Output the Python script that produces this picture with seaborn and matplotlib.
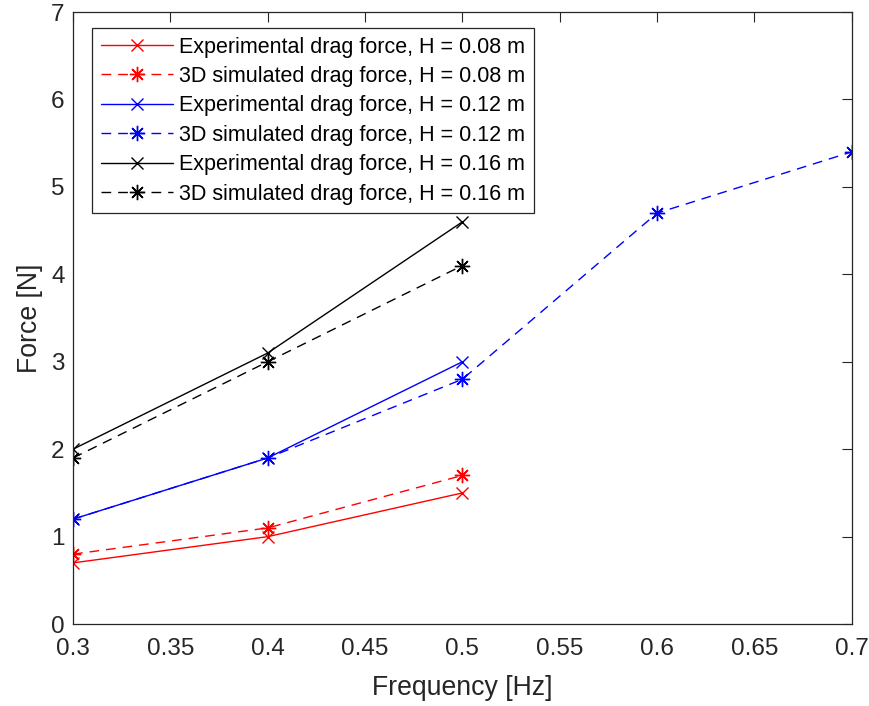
import numpy as np
import pandas as pd
import seaborn as sns
import matplotlib
matplotlib.use("Agg")
import matplotlib.pyplot as plt

# Drag force measurements and 3D simulation results
freq_short = [0.3, 0.4, 0.5]
freq_long = [0.3, 0.4, 0.5, 0.6, 0.7]

exp_h008 = [0.7, 1.0, 1.5]
sim_h008 = [0.8, 1.1, 1.7]
exp_h012 = [1.2, 1.9, 3.0]
sim_h012 = [1.2, 1.9, 2.8, 4.7, 5.4]
exp_h016 = [2.0, 3.1, 4.6]
sim_h016 = [1.9, 3.0, 4.1]

x_ticks = [0.3, 0.35, 0.4, 0.45, 0.5, 0.55, 0.6, 0.65, 0.7]
x_tick_labels = ["0.3", "0.35", "0.4", "0.45", "0.5", "0.55", "0.6", "0.65", "0.7"]
y_ticks = [0, 1, 2, 3, 4, 5, 6, 7]
y_tick_labels = ["0", "1", "2", "3", "4", "5", "6", "7"]

series = [
    ("Experimental drag force, H = 0.08 m", freq_short, exp_h008, "red", "exp"),
    ("3D simulated drag force, H = 0.08 m", freq_short, sim_h008, "red", "sim"),
    ("Experimental drag force, H = 0.12 m", freq_short, exp_h012, "blue", "exp"),
    ("3D simulated drag force, H = 0.12 m", freq_long, sim_h012, "blue", "sim"),
    ("Experimental drag force, H = 0.16 m", freq_short, exp_h016, "black", "exp"),
    ("3D simulated drag force, H = 0.16 m", freq_short, sim_h016, "black", "sim"),
]

sns.set_theme(style="white")
plt.rcParams["font.family"] = ["Liberation Sans", "DejaVu Sans"]

axis_col = "#262626"
fig = plt.figure(figsize=(8.7, 7.06), dpi=100)
ax = fig.add_axes([0.0839, 0.116, 0.8951, 0.867])

asterisk = (8, 2, 0)
for label, fx, fy, col, kind in series:
    df = pd.DataFrame({"Frequency": fx, "Force": fy})
    if kind == "exp":
        style = dict(linestyle="-", marker="x", markersize=8.5)
    else:
        style = dict(linestyle=(0, (7, 5)), marker=asterisk, markersize=11)
    sns.lineplot(data=df, x="Frequency", y="Force", ax=ax, color=col,
                 label=label, linewidth=1.0, markeredgecolor=col,
                 markerfacecolor=col, markeredgewidth=1.0,
                 estimator=None, sort=False, **style)

ax.set_xlim(0.3, 0.7)
ax.set_ylim(0, 7)
ax.set_xticks(x_ticks)
ax.set_xticklabels(x_tick_labels)
ax.set_yticks(y_ticks)
ax.set_yticklabels(y_tick_labels)

ax.tick_params(axis="both", which="both", direction="in", length=7, width=0.8,
               color=axis_col, labelcolor=axis_col, labelsize=17.5,
               top=True, right=True)
ax.tick_params(axis="x", pad=10)
ax.tick_params(axis="y", pad=6)
for sp in ax.spines.values():
    sp.set_visible(True)
    sp.set_color(axis_col)
    sp.set_linewidth(0.9)

ax.set_xlabel("Frequency [Hz]", fontsize=19.2, color=axis_col, labelpad=11)
ax.set_ylabel("Force [N]", fontsize=19.2, color=axis_col, labelpad=6)

leg = ax.legend(loc="upper left", bbox_to_anchor=(0.0244, 0.974),
                borderaxespad=0, fontsize=15.5, frameon=True, fancybox=False,
                framealpha=1, edgecolor=axis_col, handlelength=3.35,
                handletextpad=0.3, labelspacing=0.39, borderpad=0.4)
leg.get_frame().set_linewidth(0.9)
for t in leg.get_texts():
    t.set_color("black")

fig.savefig("out.png", dpi=100, facecolor="white")
